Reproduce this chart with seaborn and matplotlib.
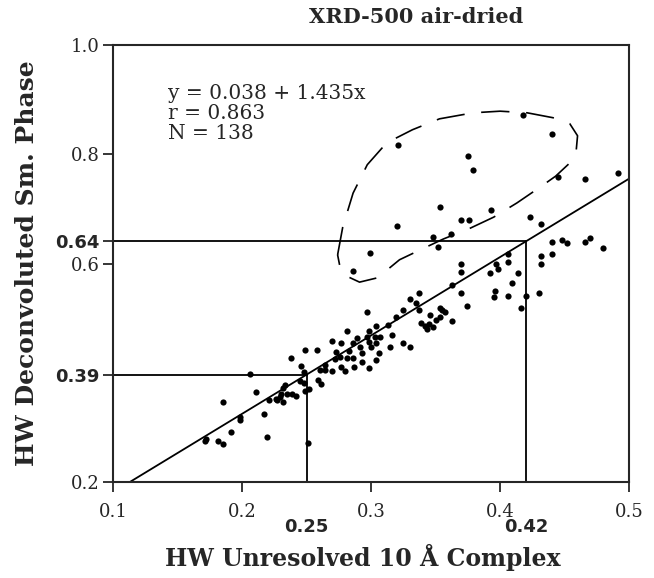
import numpy as np
import pandas as pd
import matplotlib
matplotlib.use("Agg")
import matplotlib.pyplot as plt
import seaborn as sns

# HW of unresolved 10 A complex (x) vs HW of deconvoluted smectite phase (y)
hw_unresolved = [
    0.418, 0.440, 0.321, 0.375, 0.379, 0.445, 0.466, 0.491, 0.353, 0.393,
    0.320, 0.370, 0.376, 0.423, 0.432, 0.348, 0.362, 0.352, 0.299, 0.286,
    0.440, 0.448, 0.452, 0.466, 0.470, 0.480, 0.432, 0.440, 0.432, 0.406,
    0.406, 0.397, 0.398, 0.392, 0.414, 0.370, 0.370, 0.409, 0.363, 0.396,
    0.395, 0.406, 0.420, 0.430, 0.416, 0.370, 0.374, 0.337, 0.330, 0.335,
    0.337, 0.325, 0.319, 0.353, 0.357, 0.346, 0.353, 0.363, 0.339, 0.342,
    0.343, 0.348, 0.297, 0.304, 0.298, 0.281, 0.289, 0.297, 0.303,
    0.270, 0.277, 0.286, 0.291, 0.298, 0.304, 0.315, 0.325, 0.330, 0.258,
    0.249, 0.238, 0.273, 0.276, 0.281, 0.286, 0.293, 0.298, 0.304, 0.306,
    0.264, 0.264, 0.270, 0.277, 0.280, 0.287, 0.246, 0.248, 0.206, 0.259,
    0.261, 0.248, 0.249, 0.252, 0.233, 0.232, 0.235, 0.239, 0.229, 0.227,
    0.232, 0.242, 0.211, 0.221, 0.185, 0.198, 0.198, 0.217, 0.191, 0.219,
    0.171, 0.181, 0.185, 0.251,
    0.172, 0.226, 0.230, 0.245, 0.272, 0.283, 0.307, 0.316, 0.345, 0.350,
    0.300, 0.293, 0.260, 0.313, 0.355,
]
hw_deconvoluted = [
    0.872, 0.837, 0.817, 0.797, 0.771, 0.759, 0.755, 0.765, 0.704, 0.698,
    0.669, 0.679, 0.679, 0.686, 0.673, 0.649, 0.655, 0.630, 0.620, 0.587,
    0.640, 0.643, 0.637, 0.640, 0.646, 0.628, 0.614, 0.618, 0.599, 0.618,
    0.602, 0.599, 0.590, 0.582, 0.583, 0.599, 0.585, 0.564, 0.561, 0.550,
    0.538, 0.541, 0.541, 0.546, 0.519, 0.547, 0.522, 0.547, 0.535, 0.528,
    0.515, 0.515, 0.502, 0.518, 0.512, 0.506, 0.502, 0.494, 0.491, 0.486,
    0.480, 0.483, 0.512, 0.486, 0.477, 0.477, 0.463, 0.466, 0.466,
    0.459, 0.454, 0.455, 0.448, 0.457, 0.455, 0.448, 0.455, 0.447, 0.442,
    0.442, 0.427, 0.439, 0.429, 0.427, 0.427, 0.420, 0.408, 0.423, 0.436,
    0.414, 0.405, 0.404, 0.411, 0.404, 0.411, 0.412, 0.402, 0.398, 0.387,
    0.379, 0.381, 0.367, 0.370, 0.378, 0.373, 0.361, 0.361, 0.356, 0.350,
    0.347, 0.358, 0.365, 0.350, 0.346, 0.320, 0.314, 0.325, 0.292, 0.283,
    0.276, 0.276, 0.270, 0.271,
    0.279, 0.352, 0.362, 0.385, 0.425, 0.440, 0.465, 0.470, 0.490, 0.497,
    0.448, 0.437, 0.405, 0.487, 0.515,
]

# regression reported on the chart
intercept = 0.038
slope = 1.435
r_value = 0.863
n_points = 138

# reference read-offs
ref_x = [0.25, 0.42]
ref_x_labels = ["0.25", "0.42"]
ref_y_labels = ["0.39", "0.64"]

# hand-drawn dashed outline around the outlying group
outline_x = [0.274, 0.278, 0.286, 0.297, 0.312, 0.332, 0.353, 0.379, 0.400,
             0.421, 0.441, 0.454, 0.460, 0.459, 0.453, 0.443, 0.431, 0.413,
             0.395, 0.377, 0.356, 0.338, 0.322, 0.305, 0.291, 0.281, 0.276,
             0.274]
outline_y = [0.616, 0.667, 0.729, 0.781, 0.821, 0.845, 0.865, 0.876, 0.879,
             0.876, 0.867, 0.856, 0.834, 0.808, 0.782, 0.760, 0.740, 0.711,
             0.685, 0.665, 0.645, 0.625, 0.607, 0.574, 0.566, 0.577, 0.592,
             0.616]

x_ticks = [0.1, 0.2, 0.3, 0.4, 0.5]
y_ticks = [0.2, 0.6, 0.8, 1.0]

df = pd.DataFrame({"x": hw_unresolved, "y": hw_deconvoluted})

sns.set_style("ticks")
plt.rcParams["font.family"] = ["DejaVu Serif"]
plt.rcParams["axes.linewidth"] = 1.5

fig = plt.figure(figsize=(6.54, 5.78), dpi=100)
ax = fig.add_axes([0.173, 0.166, 0.789, 0.756])

sns.scatterplot(data=df, x="x", y="y", color="black", s=20, linewidth=0, ax=ax, zorder=3)

# fitted line
x0 = (0.2 - intercept) / slope
fit_x = np.array([x0, 0.5])
ax.plot(fit_x, intercept + slope * fit_x, color="black", lw=1.3)

# read-off lines
ref_y = [intercept + slope * v for v in ref_x]
for xv, yv in zip(ref_x, ref_y):
    ax.plot([0.1, xv], [yv, yv], color="black", lw=1.3)
    ax.plot([xv, xv], [0.2, yv], color="black", lw=1.3)

ax.plot(outline_x, outline_y, color="black", lw=1.2, ls=(0, (17, 10)))

ax.set_xlim(0.1, 0.5)
ax.set_ylim(0.2, 1.0)
ax.set_xticks(x_ticks)
ax.set_xticklabels([f"{v:.1f}" for v in x_ticks], fontsize=13)
yt = y_ticks + ref_y
ax.set_yticks(yt)
ax.set_yticklabels([f"{v:.1f}" for v in y_ticks] + ref_y_labels, fontsize=13)
for lab in ax.get_yticklabels()[len(y_ticks):]:
    lab.set_family("DejaVu Sans")
    lab.set_fontweight("bold")
    lab.set_fontsize(13)
ax.tick_params(axis="x", direction="out", length=7, width=1.3, pad=8)
ax.tick_params(axis="y", direction="out", length=7, width=1.3, pad=3)

for xv, lab in zip(ref_x, ref_x_labels):
    ax.text(xv, -0.103, lab, transform=ax.get_xaxis_transform(), ha="center", va="center",
            family="DejaVu Sans", fontweight="bold", fontsize=13)

ax.text(0.107, 0.91, f"y = {intercept:.3f} + {slope:.3f}x\nr = {r_value:.3f}\nN = {n_points}",
        transform=ax.transAxes, ha="left", va="top", fontsize=14.5, linespacing=1.05)

ax.set_xlabel("HW Unresolved 10 Å Complex", fontsize=17, fontweight="bold")
ax.xaxis.set_label_coords(0.483, -0.172)
ax.xaxis.label.set_va("center")
ax.set_ylabel("HW Deconvoluted Sm. Phase", fontsize=18, fontweight="bold")
ax.yaxis.set_label_coords(-0.167, 0.5)
ax.yaxis.label.set_va("center")
fig.text(416 / 654, 1 - 17 / 578, "XRD-500 air-dried", ha="center", va="center",
         fontsize=15, fontweight="bold")

fig.savefig("out.png", dpi=100)
